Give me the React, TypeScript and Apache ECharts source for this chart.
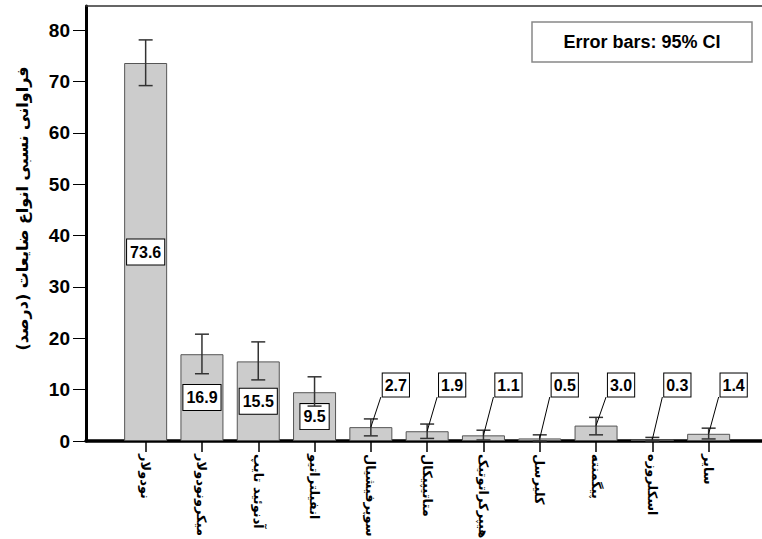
import React, { useEffect, useRef } from "react";
import * as echarts from "echarts";

const categories = [
  "نودولار",
  "میکرونودولار",
  "آدنوئید تایپ",
  "انفیلتراتیو",
  "سوپرفیشیال",
  "متاتیپیکال",
  "هیپرکراتوتیک",
  "کلیرسل",
  "پیگمنته",
  "اسکلروزه",
  "سایر",
];
const values = [73.6, 16.9, 15.5, 9.5, 2.7, 1.9, 1.1, 0.5, 3.0, 0.3, 1.4];
const ciLow = [69.2, 13.1, 11.9, 6.8, 1.0, 0.5, 0.2, 0.0, 1.2, 0.0, 0.4];
const ciHigh = [78.1, 20.8, 19.3, 12.5, 4.3, 3.3, 2.1, 1.2, 4.6, 0.7, 2.5];
const labelInside = [true, true, true, true, false, false, false, false, false, false, false];
const calloutLevel = 10.9;
const yTitle = "فراوانی نسبی انواع ضایعات (درصد)";
const noteText = "Error bars: 95% CI";
const yMax = 84.7;

export default function App() {
  const ref = useRef<HTMLDivElement>(null);
  useEffect(() => {
    if (!ref.current) return;
    const chart = echarts.init(ref.current, undefined, { renderer: "svg" });
    const latin = "Liberation Sans, Arial, sans-serif";
    const persian = "DejaVu Sans, Noto Sans, sans-serif";

    const errData = values.map((v, i) => [i, ciLow[i], ciHigh[i]]);
    const calloutData = values
      .map((v, i) => [i, v])
      .filter((d) => !labelInside[d[0] as number]);

    const option: any = {
      animation: false,
      backgroundColor: "#fff",
      grid: [
        { left: 86, right: 0, top: 6, bottom: 98, outerBoundsMode: "none", containLabel: false },
        { left: 117.5, right: 25.2, top: 6, bottom: 98, outerBoundsMode: "none", containLabel: false },
      ],
      xAxis: [
        {
          gridIndex: 0, type: "value", min: 0, max: 1, position: "bottom",
          axisLine: { show: true, lineStyle: { color: "#000", width: 3.5 } },
          axisTick: { show: false }, axisLabel: { show: false }, splitLine: { show: false },
        },
        {
          gridIndex: 0, type: "value", min: 0, max: 1, position: "top",
          axisLine: { show: true, lineStyle: { color: "#333", width: 1.5 } },
          axisTick: { show: false }, axisLabel: { show: false }, splitLine: { show: false },
        },
        {
          gridIndex: 1, type: "category", data: categories, position: "bottom",
          axisLine: { show: false },
          axisTick: { show: true, alignWithLabel: true, length: 11, lineStyle: { color: "#000", width: 1.5 } },
          axisLabel: {
            rotate: -90, interval: 0, margin: 13,
            fontFamily: persian, fontSize: 13, fontWeight: "bold", color: "#000",
          },
        },
      ],
      yAxis: [
        {
          gridIndex: 0, type: "value", min: 0, max: yMax, interval: 10,
          axisLine: { show: true, lineStyle: { color: "#000", width: 3 } },
          axisTick: { show: true, length: 13, lineStyle: { color: "#000", width: 1 } },
          axisLabel: { showMaxLabel: false, margin: 16, fontFamily: latin, fontSize: 19, fontWeight: "bold", color: "#000" },
          splitLine: { show: false },
          name: yTitle, nameLocation: "middle", nameGap: 56,
          nameTextStyle: { fontFamily: persian, fontSize: 16, fontWeight: "bold", color: "#000", padding: [0, 0, 0, 30] },
        },
        { gridIndex: 1, type: "value", min: 0, max: yMax, show: false },
      ],
      graphic: [
        {
          type: "group",
          children: [
            { type: "rect", shape: { x: 532, y: 22, width: 220, height: 40 }, style: { fill: "#fff", stroke: "#888", lineWidth: 1.5 } },
            {
              type: "text", x: 642, y: 42,
              style: { text: noteText, fill: "#000", font: "bold 18px Liberation Sans, Arial, sans-serif", textAlign: "center", textVerticalAlign: "middle" },
            },
          ],
        },
      ],
      series: [
        {
          type: "bar", xAxisIndex: 2, yAxisIndex: 1, barWidth: 43,
          itemStyle: { color: "#cccccc", borderColor: "#555", borderWidth: 1 },
          data: values.map((v, i) => ({ value: v, label: { show: labelInside[i] } })),
          label: {
            position: "inside",
            formatter: (p: any) => Number(p.value).toFixed(1),
            backgroundColor: "#fff", borderColor: "#000", borderWidth: 1,
            padding: [5, 3, 4, 3], fontFamily: latin, fontSize: 16, fontWeight: "bold", color: "#000",
          },
          z: 2,
        },
        {
          type: "custom", xAxisIndex: 2, yAxisIndex: 1, data: errData, z: 3,
          renderItem: (params: any, api: any) => {
            const i = api.value(0);
            const lo = api.coord([i, api.value(1)]);
            const hi = api.coord([i, api.value(2)]);
            const w = 7;
            const st = { stroke: "#333", lineWidth: 1.5 };
            return {
              type: "group",
              children: [
                { type: "line", shape: { x1: lo[0], y1: lo[1], x2: hi[0], y2: hi[1] }, style: st },
                { type: "line", shape: { x1: hi[0] - w, y1: hi[1], x2: hi[0] + w, y2: hi[1] }, style: st },
                { type: "line", shape: { x1: lo[0] - w, y1: lo[1], x2: lo[0] + w, y2: lo[1] }, style: st },
              ],
            };
          },
        },
        {
          type: "custom", xAxisIndex: 2, yAxisIndex: 1, data: calloutData, z: 4,
          renderItem: (params: any, api: any) => {
            const i = api.value(0);
            const v = api.value(1);
            const top = api.coord([i, v]);
            const box = api.coord([i, calloutLevel]);
            const bx = box[0] + 25;
            return {
              type: "group",
              children: [
                { type: "line", shape: { x1: bx - 15, y1: box[1] + 12, x2: top[0], y2: top[1] }, style: { stroke: "#000", lineWidth: 1 } },
                {
                  type: "text", x: bx, y: box[1],
                  style: {
                    text: Number(v).toFixed(1), fill: "#000", fontFamily: latin, fontSize: 16, fontWeight: "bold",
                    align: "center", verticalAlign: "middle",
                    backgroundColor: "#fff", borderColor: "#000", borderWidth: 1, padding: [4, 2, 3, 2],
                  },
                },
              ],
            };
          },
        },
      ],
    };
    chart.setOption(option);
    return () => chart.dispose();
  }, []);
  return <div ref={ref} style={{ position: "fixed", left: 0, top: 0, width: 762, height: 539 }} />;
}
